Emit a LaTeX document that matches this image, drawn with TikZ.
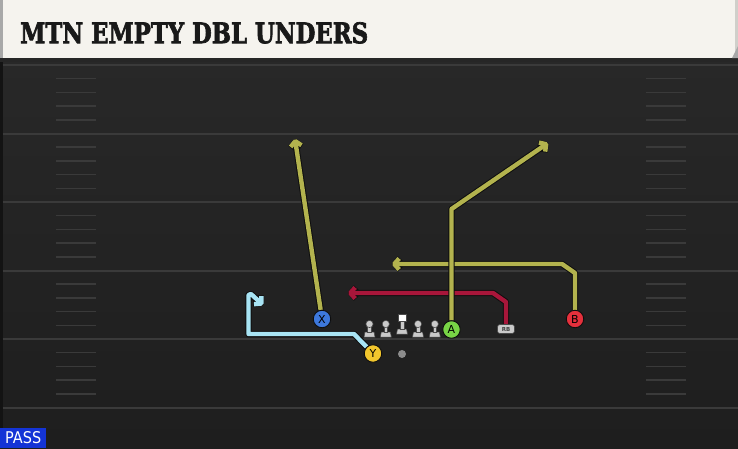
\documentclass[tikz,border=0pt]{standalone}
\usepackage{fontspec}
\usepackage{graphicx}
\setmainfont{DejaVu Serif}
\setsansfont{DejaVu Sans}
\newfontfamily\titlefont{DejaVu Serif}[FakeBold=2.5]
\usetikzlibrary{arrows.meta}
\definecolor{bgtop}{HTML}{282828}
\definecolor{bgbot}{HTML}{1E1E1E}
\definecolor{fline}{HTML}{3A3A3A}
\definecolor{hdr}{HTML}{F5F3EE}
\definecolor{hdredge}{HTML}{A8A8A8}
\definecolor{olive}{HTML}{B3B34E}
\definecolor{crimson}{HTML}{A8163A}
\definecolor{skyb}{HTML}{A8E4F4}
\definecolor{redge}{HTML}{0E0E0E}
\definecolor{xblue}{HTML}{3D78DC}
\definecolor{agreen}{HTML}{78D446}
\definecolor{bred}{HTML}{E5303C}
\definecolor{yyel}{HTML}{F2C62D}
\definecolor{lmfill}{HTML}{CACACA}
\definecolor{lmedge}{HTML}{4A4A4A}
\definecolor{passblue}{HTML}{1434D6}
\pgfdeclarelayer{field}
\pgfdeclarelayer{routes}
\pgfsetlayers{field,routes,main}
\tikzset{
  fieldline/.style={draw=fline, line width=2pt},
  hashmark/.style={draw=fline, line width=1.5pt},
  route/.style={line width=4.4pt, line join=round, draw=#1,
    preaction={draw=redge, line width=6.4pt, line join=round},
    -{Straight Barb[length=5pt,width=11pt,line join=round]}},
  player/.style={circle, minimum size=17.5pt, inner sep=0pt, draw=redge,
    line width=0.9pt, fill=#1, text=black, font=\sffamily\fontsize{11}{11}\selectfont},
  lmpart/.style={fill=lmfill, draw=lmedge, line width=0.5pt},
  lineman/.pic={
    \path[lmpart] (-5.5,7) -- (5.5,7) -- (4.5,2) -- (-4.5,2) -- cycle;
    \path[lmpart] (-1.8,-3.5) rectangle (1.8,2.2);
    \path[lmpart] (0,-6) circle (3.6);
  },
  centerman/.pic={
    \path[lmpart] (-5.5,7) -- (5.5,7) -- (4.5,2) -- (-4.5,2) -- cycle;
    \path[lmpart] (-1.8,-6) rectangle (1.8,2.2);
    \path[fill=white, draw=lmedge, line width=0.5pt] (-4,-13) rectangle (4,-6);
  }
}
\begin{document}
\begin{tikzpicture}[x=1pt,y=-1pt]
\useasboundingbox (0,0) rectangle (738,448);
\begin{pgfonlayer}{field}
  \shade[top color=bgtop, bottom color=bgbot] (0,58) rectangle (738,448);
  \fill[fline!120] (0,58) rectangle (2.5,448);
  \foreach \yy in {65,133.5,202,270.5,339,407.5}
    \draw[fieldline] (2.5,\yy) -- (738,\yy);
  \foreach \yy in {65,133.5,202,270.5,339}
    \foreach \j in {1,2,3,4} {
      \draw[hashmark] (56,\yy+13.7*\j) -- (96,\yy+13.7*\j);
      \draw[hashmark] (646,\yy+13.7*\j) -- (686,\yy+13.7*\j);
    }
  % header
  \fill[black!85] (0,57) rectangle (738,62);
  \fill[hdr] (3,0) rectangle (735,58);
  \fill[hdredge] (0,0) rectangle (3,58);
  \fill[hdr!85!black] (735,0) rectangle (738,58);
  \fill[hdredge] (732,58) -- (738,46) -- (738,58) -- cycle;
\end{pgfonlayer}

\node[anchor=north west, inner sep=0pt, text=black!90] (title) at (20,22)
  {\resizebox{348pt}{21pt}{\titlefont\bfseries MTN EMPTY DBL UNDERS}};

% players
\node[player=xblue] (X) at (322,319) {X};
\node[player=agreen] (A) at (451.5,329.5) {A};
\node[player=bred] (B) at (575,319) {B};
\node[player=yyel] (Y) at (373,353.5) {Y};
\node[rectangle, rounded corners=2.5pt, fill=lmfill, draw=lmedge, line width=0.6pt,
  minimum width=17pt, minimum height=9pt, inner sep=0pt,
  font=\sffamily\bfseries\fontsize{5.5}{5.5}\selectfont, text=black!75] (RB) at (506,329) {RB};
\node[circle, fill=black!45, minimum size=8pt, inner sep=0pt] (ball) at (402,354) {};

% line
\pic at (369.5,330) {lineman};
\pic at (385.8,330) {lineman};
\pic at (402,327) {centerman};
\pic at (418,330) {lineman};
\pic at (434.8,330) {lineman};

% route points
\coordinate (rb1) at (506,302);
\coordinate (rb2) at (493,293);
\coordinate (rbE) at (348,293);
\coordinate (b1) at (575,273);
\coordinate (b2) at (562,264);
\coordinate (bE) at (392,264);
\coordinate (a1) at (451.5,209);
\coordinate (aE) at (548,143);
\coordinate (xE) at (295,139);
\coordinate (y1) at (354,334);
\coordinate (y2) at (248.5,334);
\coordinate (y3) at (248.5,295);
\coordinate (y4) at (251,294);
\coordinate (yE) at (263,305);

\begin{pgfonlayer}{routes}
  \draw[route=crimson] (RB) -- (rb1) -- (rb2) -- (rbE);
  \draw[route=olive] (B) -- (b1) -- (b2) -- (bE);
  \draw[route=olive] (A) -- (a1) -- (aE);
  \draw[route=olive] (X) -- (xE);
  \draw[route=skyb] (Y) -- (y1) -- (y2) -- (y3) -- (y4) -- (yE);
\end{pgfonlayer}

\node[fill=passblue, anchor=south west, minimum width=46pt, minimum height=20pt,
  inner sep=0pt, text=white] (pass) at (0,448)
  {\resizebox{36pt}{12pt}{\sffamily PASS}};
\end{tikzpicture}
\end{document}
